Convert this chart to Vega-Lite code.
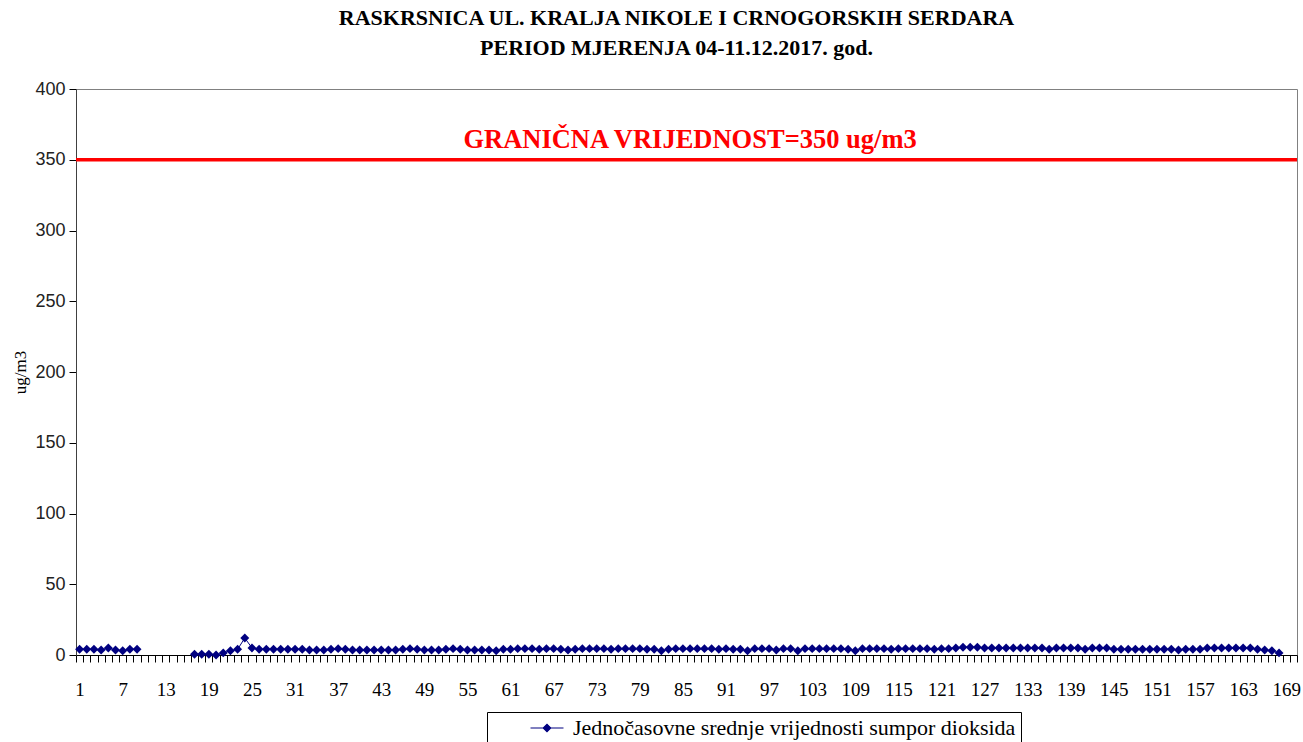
{
  "$schema": "https://vega.github.io/schema/vega-lite/v6.json",
  "autosize": "none",
  "width": 1221,
  "height": 566,
  "padding": {"left": 76, "top": 89, "right": 6, "bottom": 87},
  "background": "white",
  "config": {
    "view": {"stroke": "#808080", "strokeWidth": 1},
    "font": "Liberation Serif"
  },
  "title": {
    "text": ["RASKRSNICA UL. KRALJA NIKOLE I CRNOGORSKIH SERDARA", "PERIOD MJERENJA 04-11.12.2017. god."],
    "font": "Liberation Serif",
    "fontSize": 22,
    "fontWeight": "bold",
    "lineHeight": 30,
    "color": "black",
    "anchor": "middle",
    "dx": -10,
    "offset": 20
  },
  "datasets": {
    "so2": [
      {"h": 1, "v": 4}, {"h": 2, "v": 4}, {"h": 3, "v": 4}, {"h": 4, "v": 3.5}, {"h": 5, "v": 5}, {"h": 6, "v": 3.5}, {"h": 7, "v": 3}, {"h": 8, "v": 4}, {"h": 9, "v": 4},
      {"h": 10, "v": null}, {"h": 11, "v": null}, {"h": 12, "v": null}, {"h": 13, "v": null}, {"h": 14, "v": null}, {"h": 15, "v": null}, {"h": 16, "v": null},
      {"h": 17, "v": 0.5}, {"h": 18, "v": 0.5}, {"h": 19, "v": 0.5}, {"h": 20, "v": 0}, {"h": 21, "v": 1.5}, {"h": 22, "v": 3}, {"h": 23, "v": 4}, {"h": 24, "v": 12}, {"h": 25, "v": 5},
      {"h": 26, "v": 4}, {"h": 27, "v": 4}, {"h": 28, "v": 4}, {"h": 29, "v": 4}, {"h": 30, "v": 4}, {"h": 31, "v": 4}, {"h": 32, "v": 4}, {"h": 33, "v": 3.5}, {"h": 34, "v": 3.5}, {"h": 35, "v": 3.5}, {"h": 36, "v": 4},
      {"h": 37, "v": 4.5}, {"h": 38, "v": 4}, {"h": 39, "v": 3.5}, {"h": 40, "v": 3.5}, {"h": 41, "v": 3.5}, {"h": 42, "v": 3.5}, {"h": 43, "v": 3.5}, {"h": 44, "v": 3.5}, {"h": 45, "v": 3.5}, {"h": 46, "v": 4}, {"h": 47, "v": 4.5}, {"h": 48, "v": 4}, {"h": 49, "v": 3.5}, {"h": 50, "v": 3.5},
      {"h": 51, "v": 3.5}, {"h": 52, "v": 4}, {"h": 53, "v": 4.5}, {"h": 54, "v": 4}, {"h": 55, "v": 3.5}, {"h": 56, "v": 3.5}, {"h": 57, "v": 3.5}, {"h": 58, "v": 3.5}, {"h": 59, "v": 3}, {"h": 60, "v": 4},
      {"h": 61, "v": 4}, {"h": 62, "v": 4.5}, {"h": 63, "v": 4.5}, {"h": 64, "v": 4.5}, {"h": 65, "v": 4}, {"h": 66, "v": 4.5}, {"h": 67, "v": 4.5}, {"h": 68, "v": 4}, {"h": 69, "v": 3.5}, {"h": 70, "v": 4},
      {"h": 71, "v": 4.5}, {"h": 72, "v": 4.5}, {"h": 73, "v": 4.5}, {"h": 74, "v": 4.5}, {"h": 75, "v": 4}, {"h": 76, "v": 4.5}, {"h": 77, "v": 4.5}, {"h": 78, "v": 4.5}, {"h": 79, "v": 4.5}, {"h": 80, "v": 4}, {"h": 81, "v": 4},
      {"h": 82, "v": 3}, {"h": 83, "v": 4}, {"h": 84, "v": 4.5}, {"h": 85, "v": 4.5}, {"h": 86, "v": 4.5}, {"h": 87, "v": 4.5}, {"h": 88, "v": 4.5}, {"h": 89, "v": 4.5}, {"h": 90, "v": 4}, {"h": 91, "v": 4.5}, {"h": 92, "v": 4}, {"h": 93, "v": 4}, {"h": 94, "v": 3}, {"h": 95, "v": 4.5}, {"h": 96, "v": 4.5}, {"h": 97, "v": 4.5}, {"h": 98, "v": 3.5}, {"h": 99, "v": 4.5}, {"h": 100, "v": 4.5},
      {"h": 101, "v": 3}, {"h": 102, "v": 4.5}, {"h": 103, "v": 4.5}, {"h": 104, "v": 4.5}, {"h": 105, "v": 4.5}, {"h": 106, "v": 4.5}, {"h": 107, "v": 4.5}, {"h": 108, "v": 4}, {"h": 109, "v": 3}, {"h": 110, "v": 4.5}, {"h": 111, "v": 4.5}, {"h": 112, "v": 4.5}, {"h": 113, "v": 4.5}, {"h": 114, "v": 4}, {"h": 115, "v": 4.5}, {"h": 116, "v": 4.5}, {"h": 117, "v": 4.5}, {"h": 118, "v": 4.5}, {"h": 119, "v": 4.5}, {"h": 120, "v": 4},
      {"h": 121, "v": 4.5}, {"h": 122, "v": 4.5}, {"h": 123, "v": 5}, {"h": 124, "v": 5.5}, {"h": 125, "v": 5.5}, {"h": 126, "v": 5.5}, {"h": 127, "v": 5}, {"h": 128, "v": 5}, {"h": 129, "v": 5}, {"h": 130, "v": 5}, {"h": 131, "v": 5}, {"h": 132, "v": 5}, {"h": 133, "v": 5}, {"h": 134, "v": 5}, {"h": 135, "v": 5}, {"h": 136, "v": 4}, {"h": 137, "v": 5}, {"h": 138, "v": 5}, {"h": 139, "v": 5}, {"h": 140, "v": 5}, {"h": 141, "v": 4}, {"h": 142, "v": 5}, {"h": 143, "v": 5}, {"h": 144, "v": 5}, {"h": 145, "v": 4},
      {"h": 146, "v": 4}, {"h": 147, "v": 4}, {"h": 148, "v": 4}, {"h": 149, "v": 4}, {"h": 150, "v": 4}, {"h": 151, "v": 4}, {"h": 152, "v": 4}, {"h": 153, "v": 4}, {"h": 154, "v": 3.5}, {"h": 155, "v": 4}, {"h": 156, "v": 4}, {"h": 157, "v": 4}, {"h": 158, "v": 5}, {"h": 159, "v": 5}, {"h": 160, "v": 5}, {"h": 161, "v": 5}, {"h": 162, "v": 5}, {"h": 163, "v": 5}, {"h": 164, "v": 5}, {"h": 165, "v": 4}, {"h": 166, "v": 3.5}, {"h": 167, "v": 3}, {"h": 168, "v": 1.5}, {"h": 169, "v": null}, {"h": 170, "v": null}
    ]
  },
  "layer": [
    {
      "data": {"name": "so2"},
      "transform": [{"filter": "datum.h == 1"}],
      "mark": {"type": "rule", "color": "#ff0000", "strokeWidth": 3.5},
      "encoding": {
        "y": {"datum": 350, "type": "quantitative", "scale": {"domain": [0, 400]}}
      }
    },
    {
      "data": {"name": "so2"},
      "transform": [{"calculate": "'Jednočasovne srednje vrijednosti sumpor dioksida'", "as": "series"}],
      "mark": {
        "type": "line",
        "strokeWidth": 1,
        "invalid": "break-paths-show-domains",
        "point": {"shape": "diamond", "size": 80, "filled": true}
      },
      "encoding": {
        "x": {
          "field": "h",
          "type": "ordinal",
          "bandPosition": 0.5,
          "scale": {
            "type": "band",
            "paddingInner": 0,
            "paddingOuter": 0,
            "domain": [1,2,3,4,5,6,7,8,9,10,11,12,13,14,15,16,17,18,19,20,21,22,23,24,25,26,27,28,29,30,31,32,33,34,35,36,37,38,39,40,41,42,43,44,45,46,47,48,49,50,51,52,53,54,55,56,57,58,59,60,61,62,63,64,65,66,67,68,69,70,71,72,73,74,75,76,77,78,79,80,81,82,83,84,85,86,87,88,89,90,91,92,93,94,95,96,97,98,99,100,101,102,103,104,105,106,107,108,109,110,111,112,113,114,115,116,117,118,119,120,121,122,123,124,125,126,127,128,129,130,131,132,133,134,135,136,137,138,139,140,141,142,143,144,145,146,147,148,149,150,151,152,153,154,155,156,157,158,159,160,161,162,163,164,165,166,167,168,169,170]
          },
          "axis": {
            "title": null,
            "labelExpr": "(datum.value - 1) % 6 == 0 && datum.value <= 169 ? datum.value : ''",
            "labelOverlap": false,
            "labelFlush": false,
            "labelAngle": 0,
            "labelFont": "Liberation Serif",
            "labelFontSize": 19,
            "labelColor": "black",
            "labelPadding": 18,
            "tickBand": "extent",
            "tickSize": 7,
            "tickColor": "black",
            "domainColor": "black",
            "grid": false
          }
        },
        "y": {
          "field": "v",
          "type": "quantitative",
          "scale": {"domain": [0, 400]},
          "axis": {
            "title": "ug/m3",
            "titleFont": "Liberation Serif",
            "titleFontSize": 17,
            "titleFontWeight": "normal",
            "titleColor": "black",
            "titleX": -56,
            "titleBaseline": "middle",
            "values": [0, 50, 100, 150, 200, 250, 300, 350, 400],
            "labelFont": "Liberation Sans",
            "labelFontSize": 18,
            "labelColor": "#222222",
            "labelPadding": 4,
            "tickSize": 7,
            "tickColor": "black",
            "domainColor": "#404040",
            "gridColor": {"condition": {"test": "datum.value == 400", "value": "#a0a0a0"}, "value": "black"},
            "gridOpacity": 1
          }
        },
        "color": {
          "field": "series",
          "type": "nominal",
          "scale": {"range": ["#000080"]},
          "legend": {
            "title": null,
            "orient": "none",
            "legendX": 411,
            "legendY": 623,
            "padding": 5,
            "strokeColor": "black",
            "fillColor": "white",
            "symbolType": "M-2,0H-0.45L0,-0.45L0.45,0L0,0.45L-0.45,0ZM0.45,0H2",
            "symbolSize": 272,
            "symbolStrokeWidth": 1.2,
            "symbolFillColor": "#000080",
            "symbolStrokeColor": "#000080",
            "symbolOffset": 44,
            "labelOffset": 15,
            "labelFont": "Liberation Serif",
            "labelFontSize": 22,
            "labelColor": "black",
            "labelLimit": 700
          }
        }
      }
    },
    {
      "data": {"values": [{"h": 86, "v": 364, "label": "GRANIČNA VRIJEDNOST=350 ug/m3"}]},
      "mark": {"type": "text", "color": "#ff0000", "font": "Liberation Serif", "fontSize": 26.5, "fontWeight": "bold", "align": "center", "baseline": "middle"},
      "encoding": {
        "x": {"field": "h", "type": "ordinal", "bandPosition": 0.5},
        "y": {"field": "v", "type": "quantitative"},
        "text": {"field": "label"}
      }
    }
  ]
}
